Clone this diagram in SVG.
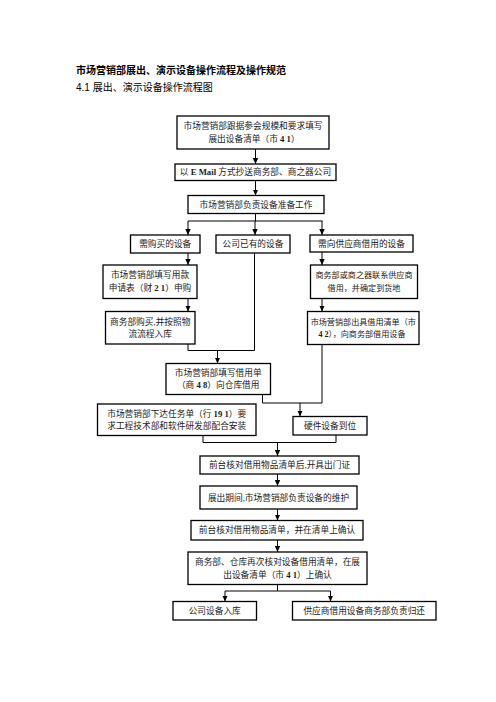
<svg xmlns="http://www.w3.org/2000/svg" width="496" height="702" viewBox="0 0 496 702">
<style>
.bg{fill:#ffffff}
.box{fill:#ffffff;stroke:#000000;stroke-width:1.3}
.t{font-family:"Liberation Serif","Noto Sans CJK SC",serif;font-size:8.7px;fill:#1a1a1a;text-anchor:middle}
.s{font-size:8.1px}
.n{font-weight:bold}
.ttl{font-family:"Liberation Sans","Noto Sans CJK SC",sans-serif;font-size:10px;font-weight:bold;fill:#000}
.sub{font-family:"Liberation Sans","Noto Sans CJK SC",sans-serif;font-size:10px;fill:#000}
.c{fill:none;stroke:#000000;stroke-width:1}
.a{fill:none;stroke:#000000;stroke-width:1;marker-end:url(#ah)}
</style>
<defs>
<marker id="ah" markerUnits="userSpaceOnUse" markerWidth="6" markerHeight="6" refX="6" refY="3" orient="auto">
<path d="M0,0.3 L6,3 L0,5.7 z" fill="#000"/>
</marker>
</defs>
<rect class="bg" x="0" y="0" width="496" height="702"/>
<text class="ttl" x="76" y="74">市场营销部展出、演示设备操作流程及操作规范</text>
<text class="sub" x="76" y="91">4.1 展出、演示设备操作流程图</text>

<g id="connectors">
<path class="a" d="M255.5,149 V164"/>
<path class="a" d="M255.5,180.5 V195.5"/>
<path class="c" d="M255.5,213.5 V221 M188,221 H322.5"/>
<path class="a" d="M188,221 V235"/>
<path class="a" d="M255,221 V235"/>
<path class="a" d="M322,221 V235"/>
<path class="a" d="M188,253 V265"/>
<path class="a" d="M188,298.5 V311.5"/>
<path class="c" d="M188,344 V350.5 H254.5 V253"/>
<path class="a" d="M217.5,350.5 V363.5"/>
<path class="a" d="M322,252 V265"/>
<path class="a" d="M322,298.5 V311.5"/>
<path class="c" d="M322,344.5 V403 H262.5 V394.5"/>
<path class="a" d="M300,403 V416.5"/>
<path class="c" d="M203,435.5 V442.5 H336 V435"/>
<path class="a" d="M277.5,442.5 V456"/>
<path class="a" d="M277.5,474 V486"/>
<path class="a" d="M277.5,509 V520.5"/>
<path class="a" d="M277.5,540 V552"/>
<path class="c" d="M277.5,584.5 V591 M225,591 H330.5"/>
<path class="a" d="M225,591 V601.5"/>
<path class="a" d="M330.5,591 V601.5"/>
</g>

<g id="n1">
<rect class="box" x="177" y="116" width="152" height="33"/>
<text class="t" x="253" y="129.3">市场营销部跟据参会规模和要求填写</text>
<text class="t" x="254" y="141.7">展出设备清单（市 <tspan class="n">4 1</tspan>）</text>
</g>
<g id="n2">
<rect class="box" x="175" y="164" width="161" height="16.5"/>
<text class="t" x="255.5" y="175.3">以 <tspan class="n">E Mail</tspan> 方式抄送商务部、商之器公司</text>
</g>
<g id="n3">
<rect class="box" x="188" y="195.5" width="136" height="18"/>
<text class="t" x="256" y="207.5">市场营销部负责设备准备工作</text>
</g>
<g id="n4">
<rect class="box" x="130.5" y="235" width="69.5" height="18"/>
<text class="t" x="165.2" y="247">需购买的设备</text>
</g>
<g id="n5">
<rect class="box" x="216" y="235" width="74" height="18"/>
<text class="t" x="253" y="247">公司已有的设备</text>
</g>
<g id="n6">
<rect class="box" x="310" y="235" width="103" height="17"/>
<text class="t" x="361.5" y="246.5">需向供应商借用的设备</text>
</g>
<g id="n7">
<rect class="box" x="103" y="265" width="94" height="33.5"/>
<text class="t" x="150" y="278.4">市场营销部填写用款</text>
<text class="t" x="150" y="291.1">申请表（财 <tspan class="n">2 1</tspan>）申购</text>
</g>
<g id="n8">
<rect class="box" x="105.5" y="311.5" width="89.5" height="32.5"/>
<text class="t" x="150.2" y="324.5">商务部购买,并按照物</text>
<text class="t" x="150.2" y="337.2">流流程入库</text>
</g>
<g id="n9">
<rect class="box" x="310.5" y="265" width="107" height="33.5"/>
<text class="t s" x="364" y="278.4">商务部或商之器联系供应商</text>
<text class="t s" x="364" y="291.1">借用，并确定到货地</text>
</g>
<g id="n10">
<rect class="box" x="307.5" y="311.5" width="111.5" height="33"/>
<text class="t s" x="363.3" y="324.7">市场营销部出具借用清单（市</text>
<text class="t s" x="362" y="337.4"><tspan class="n">4 2</tspan>），向商务部借用设备</text>
</g>
<g id="n11">
<rect class="box" x="166" y="363.5" width="104.5" height="31"/>
<text class="t" x="218.2" y="375.8">市场营销部填写借用单</text>
<text class="t" x="218.2" y="388.3">（商 <tspan class="n">4 8</tspan>）向仓库借用</text>
</g>
<g id="n12">
<rect class="box" x="97.5" y="404" width="158.5" height="31.5"/>
<text class="t" x="176.7" y="416.5">市场营销部下达任务单（行 <tspan class="n">19 1</tspan>）要</text>
<text class="t" x="176.7" y="429.2">求工程技术部和软件研发部配合安装</text>
</g>
<g id="n13">
<rect class="box" x="293" y="416.5" width="74" height="18.5"/>
<text class="t" x="330" y="428.8">硬件设备到位</text>
</g>
<g id="n14">
<rect class="box" x="200" y="456" width="159" height="18"/>
<text class="t" x="279.5" y="468">前台核对借用物品清单后,开具出门证</text>
</g>
<g id="n15">
<rect class="box" x="200" y="486" width="157" height="23"/>
<text class="t" x="278.5" y="500.5">展出期间,市场营销部负责设备的维护</text>
</g>
<g id="n16">
<rect class="box" x="191" y="520.5" width="172" height="19.5"/>
<text class="t" x="277" y="533.3">前台核对借用物品清单，并在清单上确认</text>
</g>
<g id="n17">
<rect class="box" x="188" y="552" width="179" height="32.5"/>
<text class="t" x="277.5" y="565.2">商务部、仓库再次核对设备借用清单，在展</text>
<text class="t" x="277.5" y="577.9">出设备清单（市 <tspan class="n">4 1</tspan>）上确认</text>
</g>
<g id="n18">
<rect class="box" x="173" y="601.5" width="83.5" height="18.5"/>
<text class="t" x="214.7" y="613.8">公司设备入库</text>
</g>
<g id="n19">
<rect class="box" x="292.5" y="601.5" width="143.5" height="18.5"/>
<text class="t" x="364.2" y="613.8">供应商借用设备商务部负责归还</text>
</g>
</svg>
